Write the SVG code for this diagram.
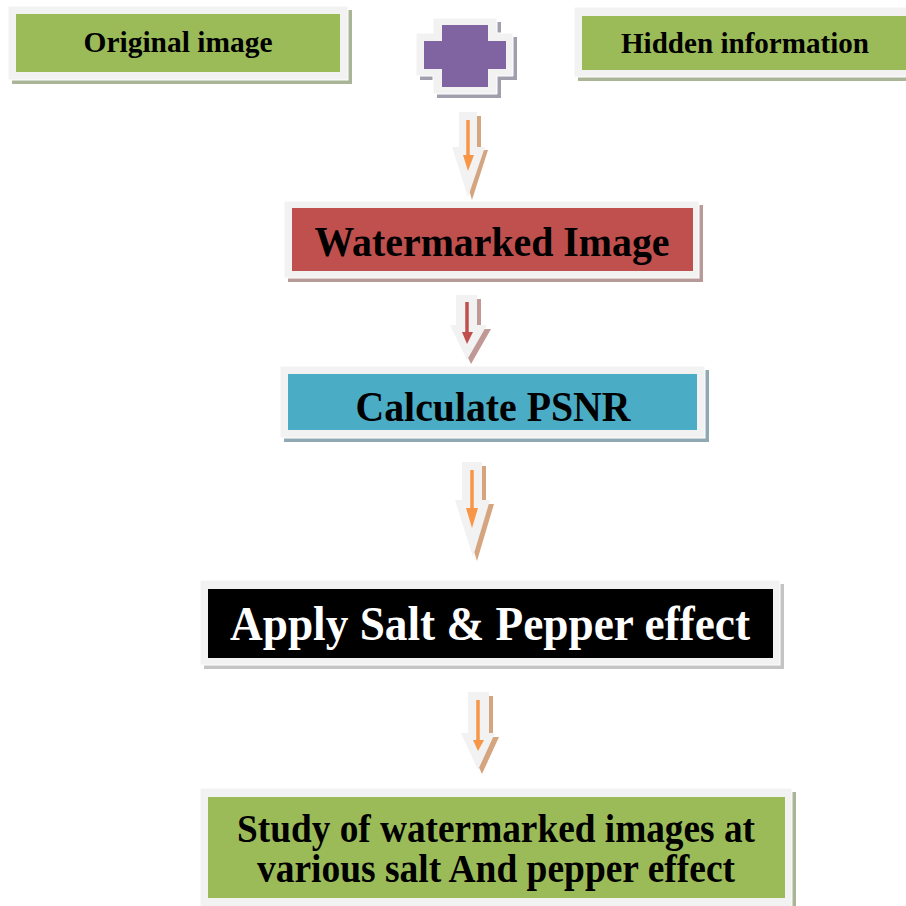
<svg xmlns="http://www.w3.org/2000/svg" width="906" height="906" viewBox="0 0 906 906">
<style>
.frame{fill:#f2f2f2;stroke:#ffffff;stroke-width:1}
.t{font-family:"Liberation Serif","Times New Roman",serif;font-weight:bold;text-anchor:middle;fill:#000}
.green{fill:#9bbb59}
.gsh{fill:#a9b596}
.arrowframe{fill:#f2f2f2}
.osh{fill:#d4a57f}
.ol{stroke:#f79646;stroke-width:3.5}
.of{fill:#f79646}
</style>
<rect width="906" height="906" fill="#ffffff"/>
<g id="original-image">
<rect x="12" y="10" width="340" height="74" class="gsh"/>
<rect x="8" y="6" width="340" height="74" class="frame"/>
<rect x="16" y="14" width="324" height="58" class="green"/>
<text x="178" y="52" class="t" font-size="30" textLength="189" lengthAdjust="spacingAndGlyphs">Original image</text>
</g>
<g id="plus">
<polygon points="437,22 501,22 501,37 517,37 517,80 501,80 501,98 437,98 437,80 420,80 420,37 437,37" fill="#a39eae"/>
<polygon points="433,18 497,18 497,33 513,33 513,76 497,76 497,94 433,94 433,76 416,76 416,33 433,33" class="frame"/>
<polygon points="442,25 488,25 488,41 506,41 506,69 488,69 488,87 442,87 442,69 424,69 424,41 442,41" fill="#8064a2"/>
</g>
<g id="hidden-information">
<rect x="578" y="11" width="340" height="70" class="gsh"/>
<rect x="574" y="7" width="340" height="70" class="frame"/>
<rect x="582" y="16" width="330" height="54" class="green"/>
<text x="745" y="53" class="t" font-size="29" textLength="248" lengthAdjust="spacingAndGlyphs">Hidden information</text>
</g>
<g id="watermarked-image">
<rect x="288" y="205" width="415" height="77" fill="#b89a99"/>
<rect x="284" y="201" width="415" height="77" class="frame"/>
<rect x="292" y="208" width="401" height="63" fill="#c0504d"/>
<text x="492" y="256" class="t" font-size="42" textLength="355" lengthAdjust="spacingAndGlyphs">Watermarked Image</text>
</g>
<g id="calculate-psnr">
<rect x="284" y="370" width="425" height="72" fill="#8fa8b2"/>
<rect x="280" y="366" width="425" height="72" class="frame"/>
<rect x="288" y="374" width="409" height="56" fill="#4bacc6"/>
<text x="493" y="421" class="t" font-size="42" textLength="275" lengthAdjust="spacingAndGlyphs">Calculate PSNR</text>
</g>
<g id="apply-salt-pepper">
<rect x="204" y="584" width="580" height="85" fill="#c4c4c4"/>
<rect x="200" y="580" width="580" height="85" class="frame"/>
<rect x="208" y="589" width="565" height="69" fill="#000000"/>
<text x="490" y="640" class="t" font-size="48" textLength="520" lengthAdjust="spacingAndGlyphs" style="fill:#ffffff">Apply Salt &amp; Pepper effect</text>
</g>
<g id="study">
<rect x="204" y="792" width="592" height="120" class="gsh"/>
<rect x="200" y="788" width="592" height="120" class="frame"/>
<rect x="208" y="797" width="577" height="101" class="green"/>
<text x="496" y="842" class="t" font-size="39" textLength="518" lengthAdjust="spacingAndGlyphs">Study of watermarked images at</text>
<text x="496" y="882" class="t" font-size="39" textLength="478" lengthAdjust="spacingAndGlyphs">various salt And pepper effect</text>
</g>
<g id="connectors">
<g id="arrow1">
<polygon points="463,116 481,116 481,150 488,150 472,200 457,150 463,150" class="osh"/>
<polygon points="459,112 477,112 477,147 485,147 468,197 452,147 459,147" class="arrowframe"/>
<line x1="468" y1="120" x2="468" y2="157" class="ol"/>
<polygon points="463,155 474,155 468,171" class="of"/>
</g>
<g id="arrow2">
<polygon points="460,299 481,299 481,329 491,329 471,364 454,329 460,329" fill="#c09896"/>
<polygon points="456,295 477,295 477,325 487,325 467,360 450,325 456,325" class="arrowframe"/>
<line x1="467" y1="302" x2="467" y2="334" stroke="#c0504d" stroke-width="3.5"/>
<polygon points="462,332 473,332 467,344" fill="#c0504d"/>
</g>
<g id="arrow3">
<polygon points="466,466 486,466 486,504 494,504 477,561 459,504 466,504" class="osh"/>
<polygon points="462,462 482,462 482,500 490,500 473,557 455,500 462,500" class="arrowframe"/>
<line x1="472" y1="470" x2="472" y2="510" class="ol"/>
<polygon points="466,508 478,508 472,528" class="of"/>
</g>
<g id="arrow4">
<polygon points="472,696 493,696 493,737 499,737 482,774 465,737 472,737" class="osh"/>
<polygon points="468,692 489,692 489,733 495,733 478,770 461,733 468,733" class="arrowframe"/>
<line x1="478" y1="700" x2="478" y2="742" class="ol"/>
<polygon points="473,740 484,740 478,751" class="of"/>
</g>
</g>
</svg>
